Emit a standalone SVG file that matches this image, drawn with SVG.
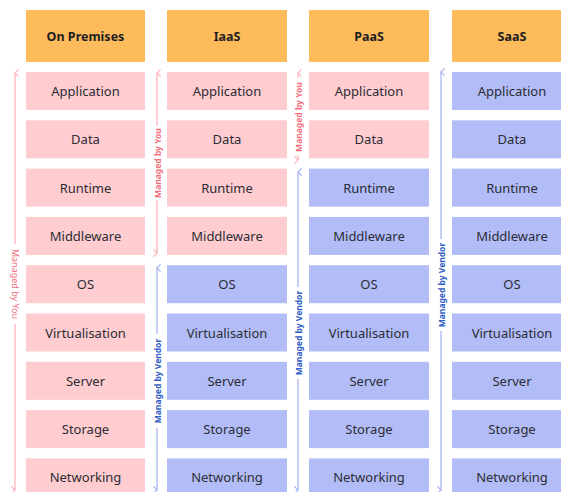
<svg xmlns="http://www.w3.org/2000/svg" width="561" height="492" viewBox="0 0 561 492">
<defs>
<style>
.hdr{fill:#FDBB5C}
.you{fill:#FFCCCF}
.ven{fill:#B2BDF7}
.ht{font-family:"Noto Sans",sans-serif;font-size:12.5px;font-weight:bold;fill:#1e1e1e;text-anchor:middle;dominant-baseline:central}
.ct{font-family:"Noto Sans",sans-serif;font-size:13px;fill:#2c2c36;text-anchor:middle;dominant-baseline:central}
.ly{font-family:"Noto Sans",sans-serif;font-size:8.5px;font-weight:bold;fill:#F3707F;text-anchor:middle;dominant-baseline:central}
.lyr{font-family:"Noto Sans",sans-serif;font-size:9px;fill:#F3707F;text-anchor:middle;dominant-baseline:central}
.lv{font-family:"Noto Sans",sans-serif;font-size:8.5px;font-weight:bold;fill:#2F5CC4;text-anchor:middle;dominant-baseline:central}
.py{stroke:#FFB4BC;stroke-width:1.3;fill:none}
.pv{stroke:#A9B6F3;stroke-width:1.3;fill:none}
</style>
<marker id="hy" viewBox="0 0 10 10" refX="5" refY="1" markerWidth="9" markerHeight="9" orient="auto-start-reverse" markerUnits="userSpaceOnUse"><polyline points="1,5 5,1 9,5" fill="none" stroke="#FFB4BC" stroke-width="1.4"/></marker>
<marker id="hv" viewBox="0 0 10 10" refX="5" refY="1" markerWidth="9" markerHeight="9" orient="auto-start-reverse" markerUnits="userSpaceOnUse"><polyline points="1,5 5,1 9,5" fill="none" stroke="#A9B6F3" stroke-width="1.4"/></marker>
</defs>
<rect width="561" height="492" fill="#ffffff"/>

<g id="col-onprem">
<g id="h1"><rect class="hdr" x="26" y="10" width="119" height="52"/><text class="ht" x="85.5" y="36">On Premises</text></g>
<g id="c1r1"><rect class="you" x="26" y="72" width="119" height="38"/><text class="ct" x="85.5" y="91">Application</text></g>
<g id="c1r2"><rect class="you" x="26" y="120.3" width="119" height="38"/><text class="ct" x="85.5" y="139.3">Data</text></g>
<g id="c1r3"><rect class="you" x="26" y="168.6" width="119" height="38"/><text class="ct" x="85.5" y="187.6">Runtime</text></g>
<g id="c1r4"><rect class="you" x="26" y="216.9" width="119" height="38"/><text class="ct" x="85.5" y="235.9">Middleware</text></g>
<g id="c1r5"><rect class="you" x="26" y="265.2" width="119" height="38"/><text class="ct" x="85.5" y="284.2">OS</text></g>
<g id="c1r6"><rect class="you" x="26" y="313.5" width="119" height="38"/><text class="ct" x="85.5" y="332.5">Virtualisation</text></g>
<g id="c1r7"><rect class="you" x="26" y="361.8" width="119" height="38"/><text class="ct" x="85.5" y="380.8">Server</text></g>
<g id="c1r8"><rect class="you" x="26" y="410.1" width="119" height="38"/><text class="ct" x="85.5" y="429.1">Storage</text></g>
<g id="c1r9"><rect class="you" x="26" y="458.4" width="119" height="38"/><text class="ct" x="85.5" y="477.4">Networking</text></g>
</g>

<g id="col-iaas">
<g id="h2"><rect class="hdr" x="167" y="10" width="120" height="52"/><text class="ht" x="227" y="36">IaaS</text></g>
<g id="c2r1"><rect class="you" x="167" y="72" width="120" height="38"/><text class="ct" x="227" y="91">Application</text></g>
<g id="c2r2"><rect class="you" x="167" y="120.3" width="120" height="38"/><text class="ct" x="227" y="139.3">Data</text></g>
<g id="c2r3"><rect class="you" x="167" y="168.6" width="120" height="38"/><text class="ct" x="227" y="187.6">Runtime</text></g>
<g id="c2r4"><rect class="you" x="167" y="216.9" width="120" height="38"/><text class="ct" x="227" y="235.9">Middleware</text></g>
<g id="c2r5"><rect class="ven" x="167" y="265.2" width="120" height="38"/><text class="ct" x="227" y="284.2">OS</text></g>
<g id="c2r6"><rect class="ven" x="167" y="313.5" width="120" height="38"/><text class="ct" x="227" y="332.5">Virtualisation</text></g>
<g id="c2r7"><rect class="ven" x="167" y="361.8" width="120" height="38"/><text class="ct" x="227" y="380.8">Server</text></g>
<g id="c2r8"><rect class="ven" x="167" y="410.1" width="120" height="38"/><text class="ct" x="227" y="429.1">Storage</text></g>
<g id="c2r9"><rect class="ven" x="167" y="458.4" width="120" height="38"/><text class="ct" x="227" y="477.4">Networking</text></g>
</g>

<g id="col-paas">
<g id="h3"><rect class="hdr" x="309" y="10" width="120" height="52"/><text class="ht" x="369" y="36">PaaS</text></g>
<g id="c3r1"><rect class="you" x="309" y="72" width="120" height="38"/><text class="ct" x="369" y="91">Application</text></g>
<g id="c3r2"><rect class="you" x="309" y="120.3" width="120" height="38"/><text class="ct" x="369" y="139.3">Data</text></g>
<g id="c3r3"><rect class="ven" x="309" y="168.6" width="120" height="38"/><text class="ct" x="369" y="187.6">Runtime</text></g>
<g id="c3r4"><rect class="ven" x="309" y="216.9" width="120" height="38"/><text class="ct" x="369" y="235.9">Middleware</text></g>
<g id="c3r5"><rect class="ven" x="309" y="265.2" width="120" height="38"/><text class="ct" x="369" y="284.2">OS</text></g>
<g id="c3r6"><rect class="ven" x="309" y="313.5" width="120" height="38"/><text class="ct" x="369" y="332.5">Virtualisation</text></g>
<g id="c3r7"><rect class="ven" x="309" y="361.8" width="120" height="38"/><text class="ct" x="369" y="380.8">Server</text></g>
<g id="c3r8"><rect class="ven" x="309" y="410.1" width="120" height="38"/><text class="ct" x="369" y="429.1">Storage</text></g>
<g id="c3r9"><rect class="ven" x="309" y="458.4" width="120" height="38"/><text class="ct" x="369" y="477.4">Networking</text></g>
</g>

<g id="col-saas">
<g id="h4"><rect class="hdr" x="452" y="10" width="120" height="52"/><text class="ht" x="512" y="36">SaaS</text></g>
<g id="c4r1"><rect class="ven" x="452" y="72" width="120" height="38"/><text class="ct" x="512" y="91">Application</text></g>
<g id="c4r2"><rect class="ven" x="452" y="120.3" width="120" height="38"/><text class="ct" x="512" y="139.3">Data</text></g>
<g id="c4r3"><rect class="ven" x="452" y="168.6" width="120" height="38"/><text class="ct" x="512" y="187.6">Runtime</text></g>
<g id="c4r4"><rect class="ven" x="452" y="216.9" width="120" height="38"/><text class="ct" x="512" y="235.9">Middleware</text></g>
<g id="c4r5"><rect class="ven" x="452" y="265.2" width="120" height="38"/><text class="ct" x="512" y="284.2">OS</text></g>
<g id="c4r6"><rect class="ven" x="452" y="313.5" width="120" height="38"/><text class="ct" x="512" y="332.5">Virtualisation</text></g>
<g id="c4r7"><rect class="ven" x="452" y="361.8" width="120" height="38"/><text class="ct" x="512" y="380.8">Server</text></g>
<g id="c4r8"><rect class="ven" x="452" y="410.1" width="120" height="38"/><text class="ct" x="512" y="429.1">Storage</text></g>
<g id="c4r9"><rect class="ven" x="452" y="458.4" width="120" height="38"/><text class="ct" x="512" y="477.4">Networking</text></g>
</g>

<g id="connectors">
<!-- left: on premises managed by you -->
<path class="py" d="M15,73 V244" marker-start="url(#hy)"/>
<path class="py" d="M15,324 V490" marker-end="url(#hy)"/>
<text class="lyr" transform="translate(15,284) rotate(90)">Managed by You</text>
<!-- iaas you -->
<path class="py" d="M157,73 V126" marker-start="url(#hy)"/>
<path class="py" d="M157,200 V253" marker-end="url(#hy)"/>
<text class="ly" transform="translate(157,163) rotate(-90)">Managed by You</text>
<!-- iaas vendor -->
<path class="pv" d="M157,268 V334" marker-start="url(#hv)"/>
<path class="pv" d="M157,428 V490" marker-end="url(#hv)"/>
<text class="lv" transform="translate(157,381) rotate(-90)">Managed by Vendor</text>
<!-- paas you -->
<path class="py" d="M298,73 V78" marker-start="url(#hy)"/>
<path class="py" d="M298,155 V160" marker-end="url(#hy)"/>
<text class="ly" transform="translate(298,117) rotate(-90)">Managed by You</text>
<!-- paas vendor -->
<path class="pv" d="M298,172 V287" marker-start="url(#hv)"/>
<path class="pv" d="M298,379 V490" marker-end="url(#hv)"/>
<text class="lv" transform="translate(298,333) rotate(-90)">Managed by Vendor</text>
<!-- saas vendor -->
<path class="pv" d="M441,72 V239" marker-start="url(#hv)"/>
<path class="pv" d="M441,331 V490" marker-end="url(#hv)"/>
<text class="lv" transform="translate(441,285) rotate(-90)">Managed by Vendor</text>
</g>
</svg>
